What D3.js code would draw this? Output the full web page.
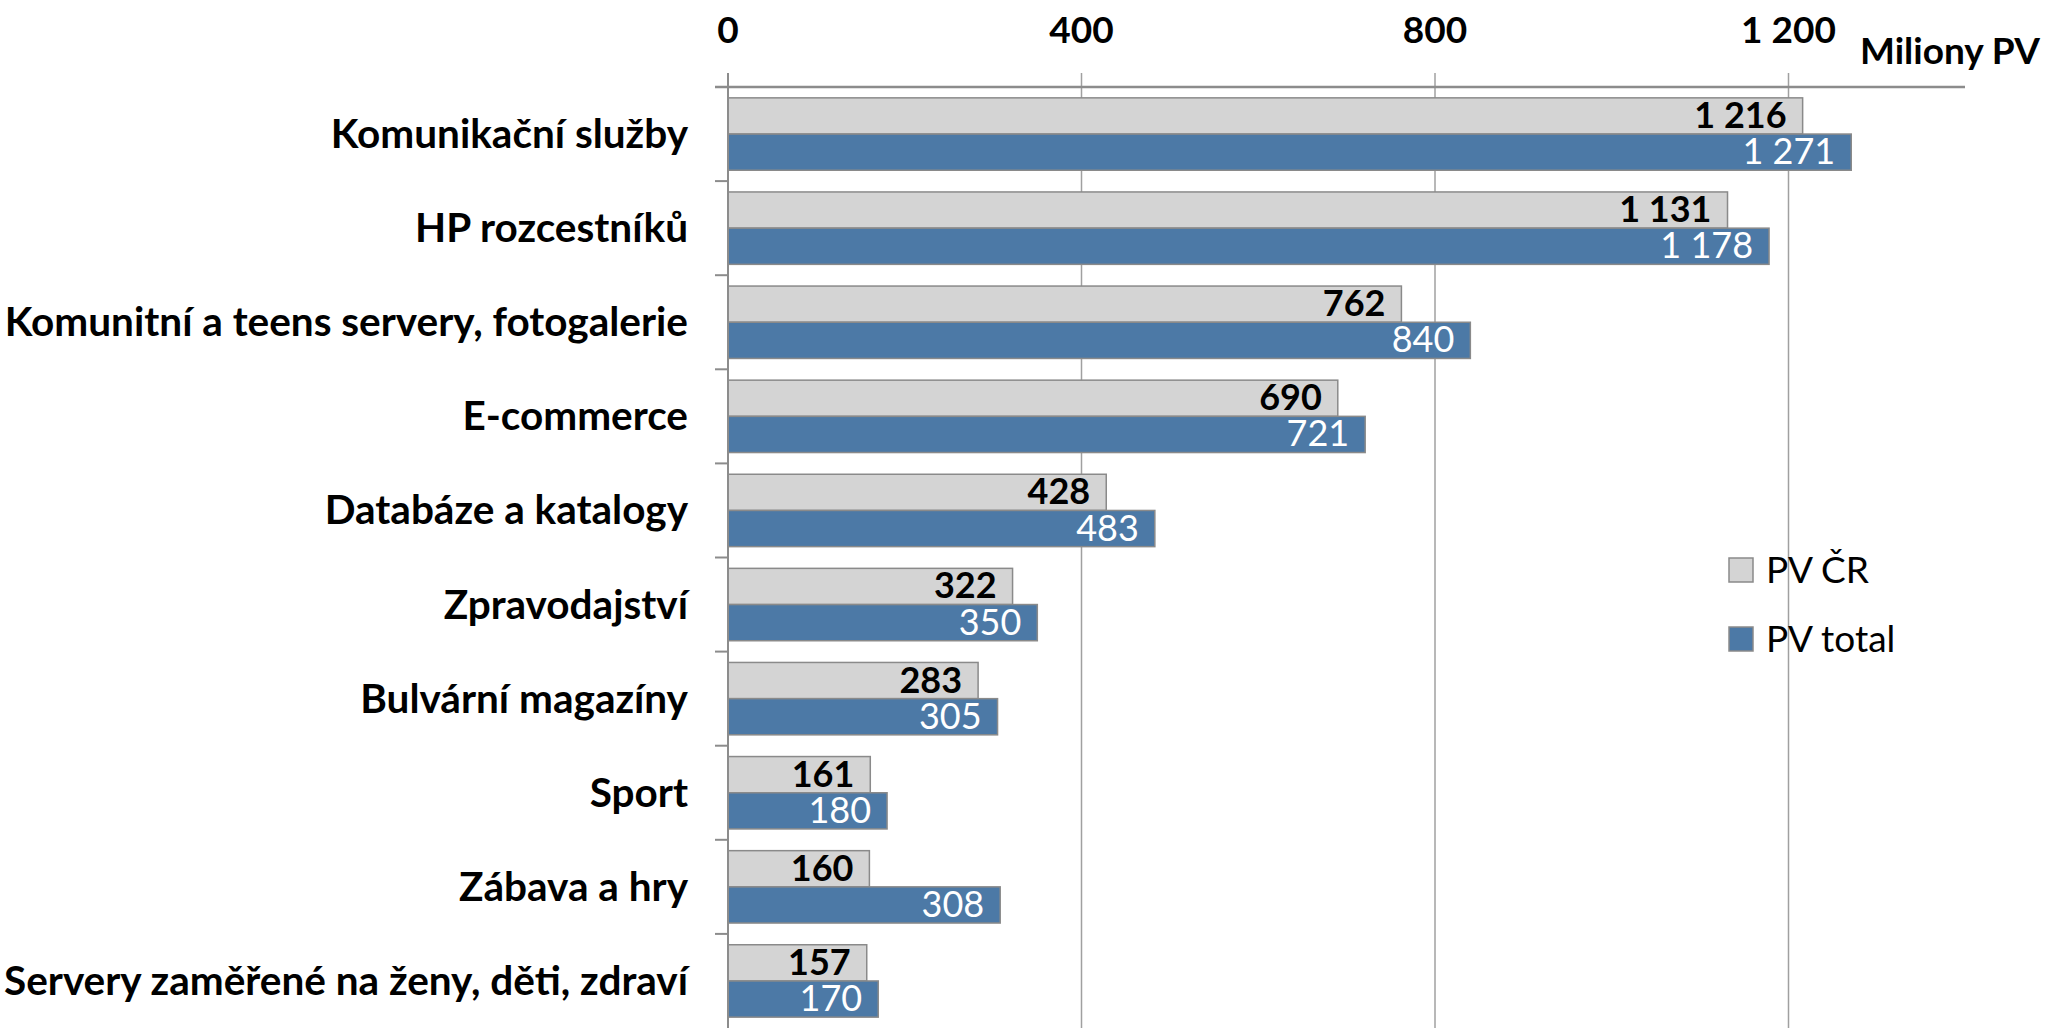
<!DOCTYPE html>
<html>
<head>
<meta charset="utf-8">
<script src="https://cdn.jsdelivr.net/npm/d3@7"></script>
<style>
  body { margin: 0; background: #fff; }
  text { font-family: Lato, "Open Sans", sans-serif; }
</style>
</head>
<body>
<div id="chart"></div>
<script>
// Data
var categories = [
  "Komunikační služby",
  "HP rozcestníků",
  "Komunitní a teens servery, fotogalerie",
  "E-commerce",
  "Databáze a katalogy",
  "Zpravodajství",
  "Bulvární magazíny",
  "Sport",
  "Zábava a hry",
  "Servery zaměřené na ženy, děti, zdraví"
];
var pvCR = [1216, 1131, 762, 690, 428, 322, 283, 161, 160, 157];
var pvTotal = [1271, 1178, 840, 721, 483, 350, 305, 180, 308, 170];
var seriesNames = ["PV ČR", "PV total"];
var tickValues = [0, 400, 800, 1200];
var unitLabel = "Miliony PV";

function drawChart() {
  var w = 2046, h = 1028;
  var plotLeft = 728, plotTop = 87, plotBottom = 1028;

  var svg = d3.select("#chart").append("svg")
    .attr("width", w).attr("height", h);

  var fmt = d3.formatLocale({ decimal: ",", thousands: " ", grouping: [3], currency: ["", ""] }).format(",d");

  var xScale = d3.scaleLinear().domain([0, 1200]).range([plotLeft, plotLeft + 1060.5]);

  var y0 = d3.scaleBand().domain(categories).range([plotTop, plotBottom]).padding(0);
  var y1 = d3.scaleBand().domain(seriesNames).range([0, y0.bandwidth()]).paddingInner(0).paddingOuter(0.3);

  var colors = { "PV ČR": "#d4d4d4", "PV total": "#4c79a6" };

  // gridlines
  svg.append("g").selectAll("line")
    .data(tickValues.slice(1))
    .enter().append("line")
    .attr("x1", function (d) { return xScale(d); })
    .attr("x2", function (d) { return xScale(d); })
    .attr("y1", plotTop - 14)
    .attr("y2", plotBottom)
    .attr("stroke", "#a0a0a0")
    .attr("stroke-width", 1.5);

  // top axis line
  svg.append("line")
    .attr("x1", plotLeft - 13).attr("x2", 1965)
    .attr("y1", plotTop).attr("y2", plotTop)
    .attr("stroke", "#8c8c8c").attr("stroke-width", 2.5);

  // tick labels
  svg.append("g").selectAll("text")
    .data(tickValues)
    .enter().append("text")
    .attr("x", function (d) { return xScale(d); })
    .attr("y", 43)
    .attr("text-anchor", "middle")
    .style("font-size", "37px")
    .style("font-weight", "bold")
    .text(function (d) { return fmt(d); });

  svg.append("text")
    .attr("x", 2040).attr("y", 64)
    .attr("text-anchor", "end")
    .style("font-size", "37px")
    .style("font-weight", "bold")
    .text(unitLabel);

  // rows
  var rows = categories.map(function (c, i) {
    return { cat: c, values: [{ s: seriesNames[0], v: pvCR[i] }, { s: seriesNames[1], v: pvTotal[i] }] };
  });

  var groups = svg.append("g").selectAll("g")
    .data(rows)
    .enter().append("g")
    .attr("transform", function (d) { return "translate(0," + y0(d.cat) + ")"; });

  groups.selectAll("rect")
    .data(function (d) { return d.values; })
    .enter().append("rect")
    .attr("x", xScale(0))
    .attr("y", function (d) { return y1(d.s); })
    .attr("width", function (d) { return xScale(d.v) - xScale(0); })
    .attr("height", y1.bandwidth())
    .attr("fill", function (d) { return colors[d.s]; })
    .attr("stroke", "#8a8a8a")
    .attr("stroke-width", 1.5);

  groups.selectAll("text.val")
    .data(function (d) { return d.values; })
    .enter().append("text")
    .attr("class", "val")
    .attr("x", function (d) { return xScale(d.v) - 16; })
    .attr("y", function (d) { return y1(d.s) + y1.bandwidth() / 2 + 12; })
    .attr("text-anchor", "end")
    .style("font-size", "36px")
    .style("font-weight", function (d) { return d.s === seriesNames[0] ? "bold" : "normal"; })
    .attr("fill", function (d) { return d.s === seriesNames[0] ? "#000" : "#fff"; })
    .text(function (d) { return fmt(d.v); });

  // category labels
  svg.append("g").selectAll("text")
    .data(categories)
    .enter().append("text")
    .attr("x", 688)
    .attr("y", function (d) { return y0(d) + y0.bandwidth() / 2 + 14; })
    .attr("text-anchor", "end")
    .style("font-size", "40.5px")
    .style("font-weight", "bold")
    .text(function (d) { return d; });

  // left axis line and ticks
  svg.append("line")
    .attr("x1", plotLeft).attr("x2", plotLeft)
    .attr("y1", plotTop - 14).attr("y2", plotBottom)
    .attr("stroke", "#8c8c8c").attr("stroke-width", 2);

  svg.append("g").selectAll("line")
    .data(categories.slice(1))
    .enter().append("line")
    .attr("x1", plotLeft - 13).attr("x2", plotLeft)
    .attr("y1", function (d) { return y0(d); })
    .attr("y2", function (d) { return y0(d); })
    .attr("stroke", "#8c8c8c").attr("stroke-width", 2);

  // legend
  var legend = svg.append("g").selectAll("g")
    .data(seriesNames)
    .enter().append("g")
    .attr("transform", function (d, i) { return "translate(1729," + (558 + i * 69) + ")"; });

  legend.append("rect")
    .attr("width", 24).attr("height", 24)
    .attr("fill", function (d) { return colors[d]; })
    .attr("stroke", "#8a8a8a").attr("stroke-width", 1.5);

  legend.append("text")
    .attr("x", 37).attr("y", 25)
    .style("font-size", "37px")
    .text(function (d) { return d; });
}

drawChart();
</script>
</body>
</html>
